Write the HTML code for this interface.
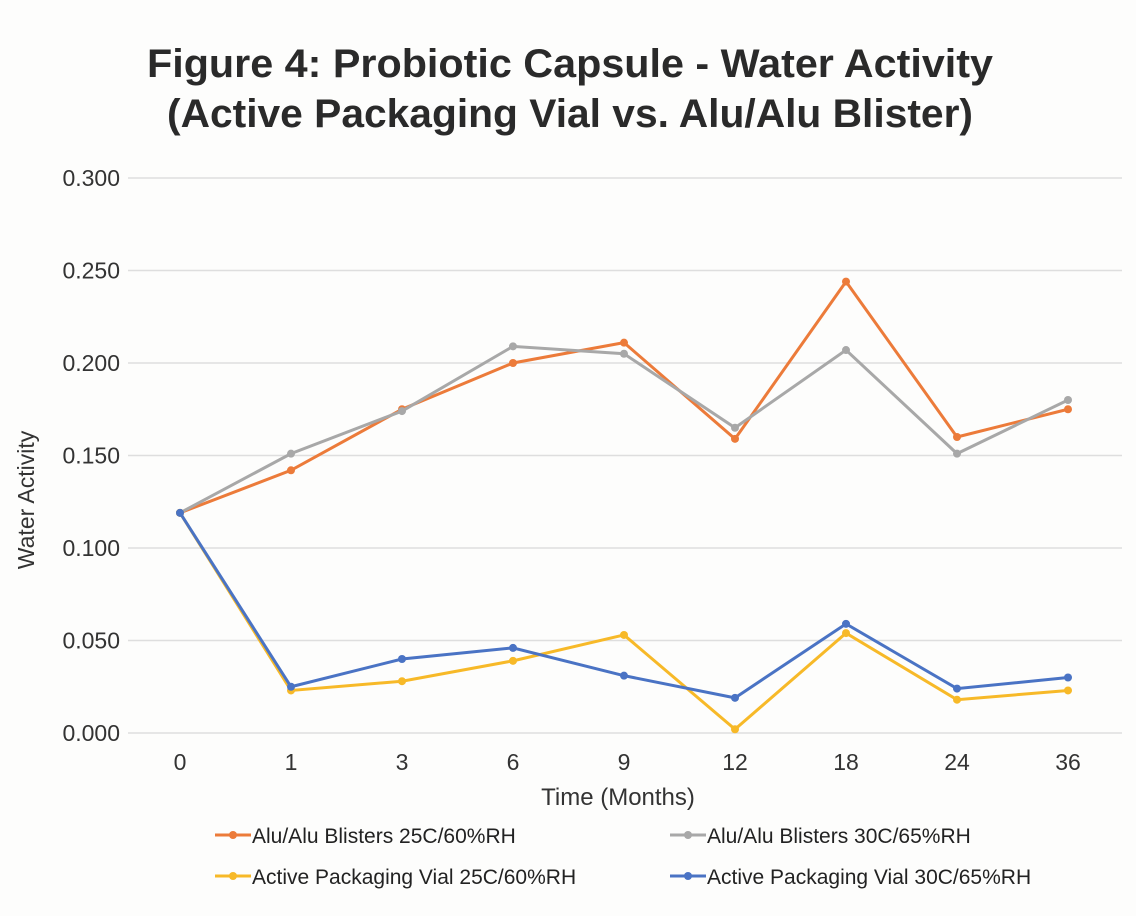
<!DOCTYPE html>
<html><head><meta charset="utf-8"><style>
html,body{margin:0;padding:0;background:#fff;}
svg{display:block;font-family:"Liberation Sans",sans-serif;}
</style></head><body>
<svg id="chart" width="1136" height="916" viewBox="0 0 1136 916">
<rect width="1136" height="916" fill="#fdfdfc"/>
<text x="570" y="77" text-anchor="middle" font-size="40" font-weight="bold" fill="#2a2a2a" textLength="846" lengthAdjust="spacingAndGlyphs">Figure 4: Probiotic Capsule - Water Activity</text>
<text x="570" y="127" text-anchor="middle" font-size="40" font-weight="bold" fill="#2a2a2a" textLength="806" lengthAdjust="spacingAndGlyphs">(Active Packaging Vial vs. Alu/Alu Blister)</text>
<g id="grid"></g><g id="yt"></g><g id="xt"></g><g id="series"></g>
<text transform="translate(34,500) rotate(-90)" text-anchor="middle" font-size="23" fill="#333">Water Activity</text>
<text x="618" y="805" text-anchor="middle" font-size="24" fill="#333">Time (Months)</text>
<g id="legend"></g>
</svg>
<script>
const categories=["0","1","3","6","9","12","18","24","36"];
const yTicks=[0,0.05,0.1,0.15,0.2,0.25,0.3];
const yTickLabels=["0.000","0.050","0.100","0.150","0.200","0.250","0.300"];
const seriesNames=["Alu/Alu Blisters 25C/60%RH","Alu/Alu Blisters 30C/65%RH","Active Packaging Vial 25C/60%RH","Active Packaging Vial 30C/65%RH"];
const aluBlister25=[0.119,0.142,0.175,0.200,0.211,0.159,0.244,0.160,0.175];
const aluBlister30=[0.119,0.151,0.174,0.209,0.205,0.165,0.207,0.151,0.180];
const vial25=[0.119,0.023,0.028,0.039,0.053,0.002,0.054,0.018,0.023];
const vial30=[0.119,0.025,0.040,0.046,0.031,0.019,0.059,0.024,0.030];
const NS="http://www.w3.org/2000/svg";
const x=i=>180+i*111;
const y=v=>733-v*1850;
function mk(t,a,p){const e=document.createElementNS(NS,t);for(const k in a)e.setAttribute(k,a[k]);p.appendChild(e);return e;}
const grid=document.getElementById('grid'),yt=document.getElementById('yt'),xt=document.getElementById('xt'),ser=document.getElementById('series'),leg=document.getElementById('legend');
yTicks.forEach((v,i)=>{
 const l=mk('line',{x1:128,x2:1122,y1:y(v),y2:y(v),stroke:'#dedede','stroke-width':1.5},grid);
 
 
 const t=mk('text',{x:120,y:y(v)+8,'text-anchor':'end','font-size':23,fill:'#333'},yt);
 t.textContent=yTickLabels[i];
 
 
});
categories.forEach((c,i)=>{
 const t=mk('text',{x:x(i),y:770,'text-anchor':'middle','font-size':23,fill:'#333'},xt);
 t.textContent=c;
 
 
});
const data=[aluBlister25,aluBlister30,vial25,vial30];
const colors=["#ec7b3a","#a8a8a8","#f7b928","#4a73c4"];
data.forEach((d,s)=>{
 const g=mk('g',{},ser);
 
 
 const pl=mk('polyline',{points:d.map((v,i)=>x(i)+','+y(v)).join(' '),fill:'none',stroke:colors[s],'stroke-width':3},g);
 
 
 d.forEach((v,i)=>{
  const c=mk('circle',{cx:x(i),cy:y(v),r:4,fill:colors[s]},g);
  
  
 });
});
const lp=[[215,835],[670,835],[215,876],[670,876]];
seriesNames.forEach((n,s)=>{
 const g=mk('g',{},leg);
 
 
 const [lx,ly]=lp[s];
 mk('line',{x1:lx,x2:lx+36,y1:ly,y2:ly,stroke:colors[s],'stroke-width':3},g);
 mk('circle',{cx:lx+18,cy:ly,r:4,fill:colors[s]},g);
 const t=mk('text',{x:lx+37,y:ly+8,'font-size':21,fill:'#222'},g);
 t.textContent=n;
});
</script>
</body></html>
